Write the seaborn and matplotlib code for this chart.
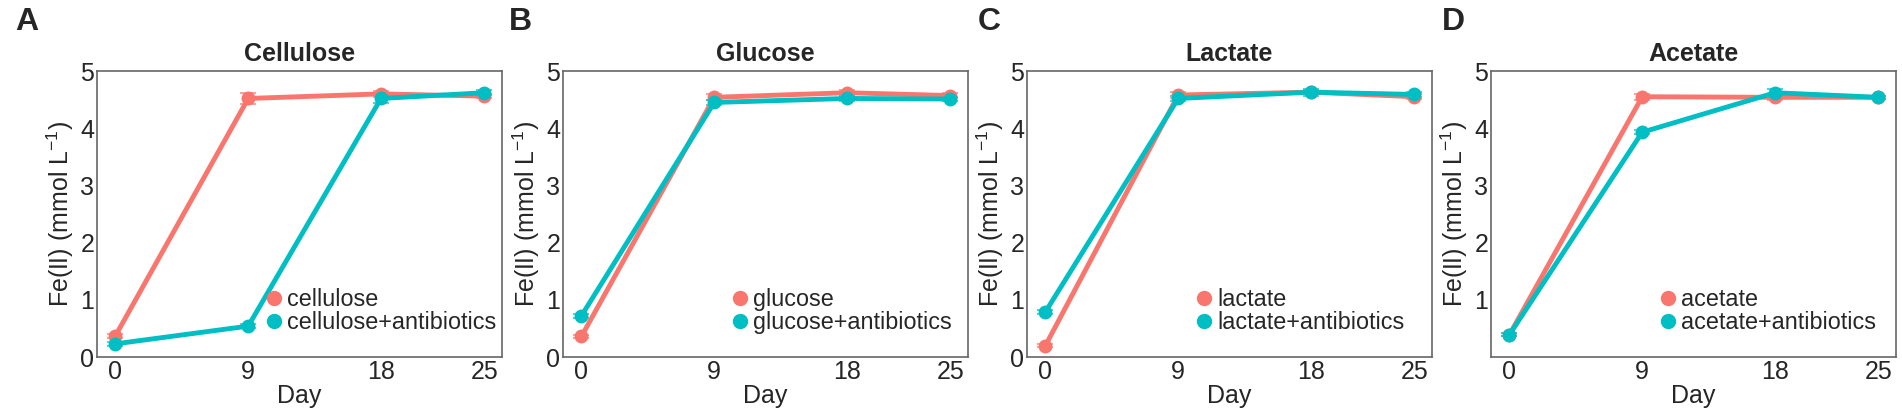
import numpy as np
import pandas as pd
import matplotlib
matplotlib.use('Agg')
import matplotlib.pyplot as plt
import seaborn as sns
from matplotlib.lines import Line2D

# 데이터 ============================================
days = [0, 9, 18, 25]
panels = ['A', 'B', 'C', 'D']
titles = ['Cellulose', 'Glucose', 'Lactate', 'Acetate']
substrates = ['cellulose', 'glucose', 'lactate', 'acetate']

# Fe(II) (mmol/L) - 기질만
fe_plain = [
    [0.37, 4.52, 4.60, 4.56],
    [0.36, 4.54, 4.62, 4.57],
    [0.20, 4.58, 4.63, 4.55],
    [0.39, 4.55, 4.54, 4.54],
]
# 기질 + 항생제
fe_anti = [
    [0.23, 0.54, 4.52, 4.62],
    [0.72, 4.45, 4.52, 4.51],
    [0.79, 4.52, 4.63, 4.59],
    [0.39, 3.93, 4.62, 4.54],
]
# 표준편차 (작게 보임)
sd_plain = [
    [0.03, 0.10, 0.05, 0.04],
    [0.03, 0.05, 0.05, 0.04],
    [0.03, 0.05, 0.04, 0.04],
    [0.03, 0.05, 0.04, 0.03],
]
sd_anti = [
    [0.03, 0.04, 0.08, 0.04],
    [0.03, 0.05, 0.04, 0.04],
    [0.03, 0.05, 0.06, 0.04],
    [0.03, 0.04, 0.06, 0.03],
]

red = '#F8766D'
teal = '#00BFC4'

sns.set_style('white')
plt.rcParams['font.family'] = ['Liberation Sans', 'DejaVu Sans']
plt.rcParams['mathtext.fontset'] = 'custom'
plt.rcParams['mathtext.rm'] = 'Liberation Sans'

fig = plt.figure(figsize=(19.02, 4.15), dpi=100)

lefts = [97, 563, 1027, 1491]
letter_x = [15, 509, 978, 1442]
W, H = 1902, 415

for i in range(4):
    ax = fig.add_axes([lefts[i] / W, 1 - 357 / H, 405 / W, 286 / H])
    name = substrates[i]
    lab_a = name
    lab_b = name + '+antibiotics'
    df = pd.DataFrame({
        'Day': days * 2,
        'Fe': fe_plain[i] + fe_anti[i],
        'sd': sd_plain[i] + sd_anti[i],
        'group': [lab_a] * 4 + [lab_b] * 4,
    })
    pal = {lab_a: red, lab_b: teal}
    for g in [lab_a, lab_b]:
        sub = df[df['group'] == g]
        ax.errorbar(sub['Day'], sub['Fe'], yerr=sub['sd'], fmt='none',
                    ecolor=pal[g], elinewidth=1.2, capsize=6, capthick=1.2,
                    alpha=0.8, zorder=1)
    sns.lineplot(data=df, x='Day', y='Fe', hue='group', palette=pal,
                 marker='o', markersize=10, markeredgewidth=0, linewidth=3.5,
                 legend=False, ax=ax, zorder=3)

    ax.set_xlim(-1.25, 26.2)
    ax.set_ylim(0, 5)
    ax.set_xticks(days)
    if i == 3:
        ax.set_yticks([1, 2, 3, 4, 5])
    else:
        ax.set_yticks([0, 1, 2, 3, 4, 5])
    ax.tick_params(direction='in', length=7, width=1, color='#666666',
                   labelsize=18, pad=2)
    for s in ax.spines.values():
        s.set_color('#666666')
        s.set_linewidth(1.2)
    ax.set_xlabel('Day', fontsize=18, labelpad=0)
    ax.set_ylabel('Fe(II) (mmol L$^{-1}$)', fontsize=18, labelpad=3)
    ax.set_title(titles[i], fontsize=18, fontweight='bold', pad=7)

    handles = [Line2D([], [], ls='none', marker='o', ms=10, color=red),
               Line2D([], [], ls='none', marker='o', ms=10, color=teal)]
    ax.legend(handles, [lab_a, lab_b], loc='lower left',
              bbox_to_anchor=(0.415, 0.08), frameon=False, fontsize=16.8,
              handlelength=0.8, handletextpad=0.15, labelspacing=0.0,
              borderpad=0, borderaxespad=0)

    fig.text(letter_x[i] / W, 1 - 7 / H, panels[i], fontsize=23,
             fontweight='bold', ha='left', va='top')

fig.savefig('out.png', dpi=100)
